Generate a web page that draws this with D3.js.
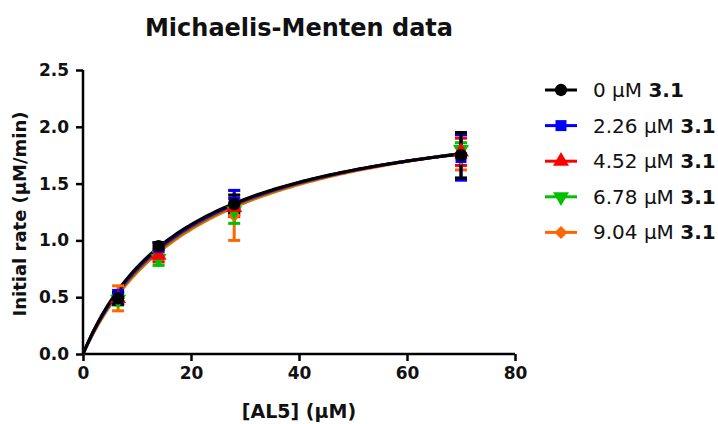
<!DOCTYPE html>
<html>
<head>
<meta charset="utf-8">
<script src="https://cdn.jsdelivr.net/npm/d3@7"></script>
<style>
  body { margin: 0; background: #fff; }
  text { font-family: "DejaVu Sans", sans-serif; fill: #111; }
</style>
</head>
<body>
<div id="chart"></div>
<script>
// substrate concentrations (uM)
var substrate = [6.5, 14, 28, 70];
// inhibitor concentrations for the legend
var seriesNames = ["0", "2.26", "4.52", "6.78", "9.04"];
var seriesColors = ["#000000", "#0000ff", "#ff0000", "#00c000", "#ff6600"];
// mean initial rates per series
var rates = [
  [0.49, 0.95, 1.32, 1.75],
  [0.50, 0.94, 1.34, 1.73],
  [0.49, 0.87, 1.29, 1.78],
  [0.48, 0.84, 1.26, 1.80],
  [0.49, 0.90, 1.22, 1.72]
];
// error bars (SD)
var errors = [
  [0.05, 0.03, 0.08, 0.20],
  [0.06, 0.04, 0.10, 0.20],
  [0.05, 0.06, 0.08, 0.12],
  [0.05, 0.06, 0.11, 0.06],
  [0.11, 0.08, 0.22, 0.10]
];
// fitted Michaelis-Menten parameters
var vmax = [2.25, 2.27, 2.29, 2.31, 2.33];
var km = [19.5, 20.2, 20.9, 21.6, 22.5];
var xTicks = [0, 20, 40, 60, 80];
var yTicks = [0, 0.5, 1.0, 1.5, 2.0, 2.5];

var width = 718, height = 424;
var svg = d3.select("#chart").append("svg")
  .attr("width", width).attr("height", height);

var xScale = d3.scaleLinear().domain([0, 80]).range([83, 515]);
var yScale = d3.scaleLinear().domain([0, 2.5]).range([354, 70]);

// title
svg.append("text").attr("x", 299).attr("y", 36)
  .attr("text-anchor", "middle").attr("font-size", 24).attr("font-weight", "bold")
  .text("Michaelis-Menten data");

// axes
var xAxis = d3.axisBottom(xScale).tickValues(xTicks).tickSize(7).tickPadding(6)
  .tickFormat(d3.format("d"));
var yAxis = d3.axisLeft(yScale).tickValues(yTicks).tickSize(7).tickPadding(7)
  .tickFormat(d3.format(".1f"));
var gx = svg.append("g").attr("transform", "translate(0,354)").call(xAxis);
var gy = svg.append("g").attr("transform", "translate(83,0)").call(yAxis);
[gx, gy].forEach(function(g) {
  g.select(".domain").attr("stroke", "#000").attr("stroke-width", 2.5);
  g.selectAll(".tick line").attr("stroke", "#000").attr("stroke-width", 2.5);
  g.selectAll(".tick text").attr("font-size", 17).attr("font-weight", "bold")
    .attr("fill", "#111").style("font-family", "DejaVu Sans, sans-serif");
});
gx.select(".domain").attr("d", "M83,0H515");
gy.select(".domain").attr("d", "M0,354V70");

// axis labels
svg.append("text").attr("x", 299).attr("y", 418)
  .attr("text-anchor", "middle").attr("font-size", 19).attr("font-weight", "bold")
  .text("[AL5] (\u03bcM)");
svg.append("text")
  .attr("transform", "translate(26,214)rotate(-90)")
  .attr("text-anchor", "middle").attr("font-size", 18).attr("font-weight", "bold")
  .text("Initial rate (\u03bcM/min)");

// marker shapes
function markerPath(i, size) {
  var types = [d3.symbolCircle, d3.symbolSquare, d3.symbolTriangle, d3.symbolTriangle, d3.symbolSquare];
  return d3.symbol().type(types[i]).size(size)();
}
function markerRotate(i) {
  if (i === 3) return "rotate(180)";
  if (i === 4) return "rotate(45)";
  return "";
}
var markerSizes = [120, 120, 110, 110, 85];

var order = [4, 3, 2, 1, 0];

// fitted curves
var curveLine = d3.line()
  .x(function(d) { return xScale(d[0]); })
  .y(function(d) { return yScale(d[1]); });
order.forEach(function(i) {
  var pts = d3.range(0, 70.01, 0.5).map(function(s) {
    return [s, vmax[i] * s / (km[i] + s)];
  });
  svg.append("path").datum(pts).attr("d", curveLine)
    .attr("fill", "none").attr("stroke", seriesColors[i]).attr("stroke-width", 3);
});

// error bars
order.forEach(function(i) {
  var g = svg.append("g").attr("stroke", seriesColors[i]).attr("stroke-width", 3);
  substrate.forEach(function(s, j) {
    var x = xScale(s), lo = yScale(rates[i][j] - errors[i][j]), hi = yScale(rates[i][j] + errors[i][j]);
    g.append("line").attr("x1", x).attr("x2", x).attr("y1", lo).attr("y2", hi);
    g.append("line").attr("x1", x - 6).attr("x2", x + 6).attr("y1", lo).attr("y2", lo);
    g.append("line").attr("x1", x - 6).attr("x2", x + 6).attr("y1", hi).attr("y2", hi);
  });
});

// markers
order.forEach(function(i) {
  svg.append("g").selectAll("path").data(substrate).enter().append("path")
    .attr("d", markerPath(i, markerSizes[i]))
    .attr("transform", function(s, j) {
      return "translate(" + xScale(s) + "," + yScale(rates[i][j]) + ")" + markerRotate(i);
    })
    .attr("fill", seriesColors[i]);
});

// legend
var legend = svg.append("g");
seriesNames.forEach(function(name, i) {
  var y = 90 + i * 35.6;
  legend.append("line").attr("x1", 545).attr("x2", 577).attr("y1", y).attr("y2", y)
    .attr("stroke", seriesColors[i]).attr("stroke-width", 3);
  legend.append("path").attr("d", markerPath(i, markerSizes[i]))
    .attr("transform", "translate(561," + y + ")" + markerRotate(i))
    .attr("fill", seriesColors[i]);
  var t = legend.append("text").attr("x", 593).attr("y", y + 7).attr("font-size", 20);
  t.append("tspan").text(name + " \u03bcM ");
  t.append("tspan").attr("font-weight", "bold").text("3.1");
});
</script>
</body>
</html>
